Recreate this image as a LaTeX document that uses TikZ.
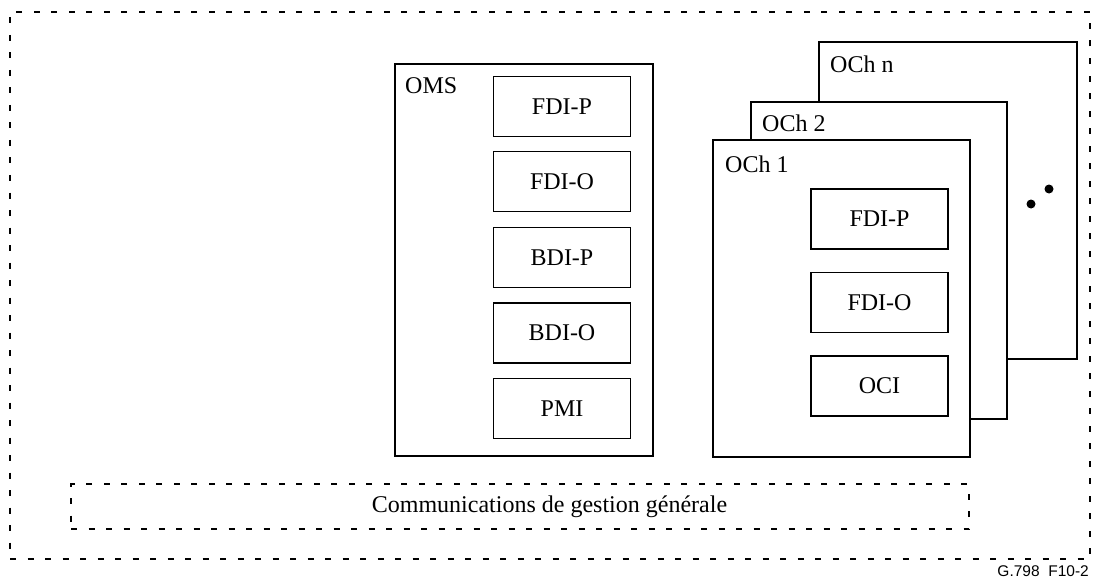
\documentclass[tikz,border=0pt]{standalone}
\usepackage{fontspec}
\setmainfont{Liberation Serif}
\newfontfamily\arialfont{Liberation Sans}
\begin{document}
\begin{tikzpicture}[x=1pt,y=-1pt,
  frame/.style={draw, line width=1.3pt, fill=white, inner sep=0pt},
  cell/.style={draw, line width=1.3pt, fill=white, inner sep=0pt,
    minimum width=137pt, minimum height=60pt, font=\fontsize{24}{28}\selectfont},
  lbl/.style={anchor=base west, inner sep=0pt, font=\fontsize{24}{28}\selectfont},
  dsh/.style={draw, line width=1.6pt, dash pattern=on 6pt off 11.5pt}]
\useasboundingbox (0,0) rectangle (1093,578);

% outer dashed frame
\node[dsh, inner sep=0pt, minimum width=1080pt, minimum height=547pt] (outer) at (550,285.5) {};

% OMS
\node[frame, minimum width=258pt, minimum height=392pt] (oms) at (524,260) {};
\node[lbl] (omsl) at (405,93) {OMS};
\node[cell] (mfdip) at (562,106.5) {FDI-P};
\node[cell] (mfdio) at (562,181.5) {FDI-O};
\node[cell] (mbdip) at (562,257.5) {BDI-P};
\node[cell] (mbdio) at (562,333) {BDI-O};
\node[cell] (mpmi) at (562,408.5) {PMI};

% OCh stack
\node[frame, minimum width=258pt, minimum height=317pt] (ochn) at (948,200.5) {};
\node[lbl] (ochnl) at (830,73) {OCh n};
\fill (1049,189) circle (4.5pt);
\fill (1031,204) circle (4.5pt);
\node[frame, minimum width=256pt, minimum height=317pt] (och2) at (879,260.5) {};
\node[lbl] (och2l) at (762,131) {OCh 2};
\node[frame, minimum width=257pt, minimum height=317pt] (och1) at (841.5,298.5) {};
\node[lbl] (och1l) at (725,172) {OCh 1};
\node[cell] (cfdip) at (879.5,219) {FDI-P};
\node[cell] (cfdio) at (879.5,302.5) {FDI-O};
\node[cell] (coci) at (879.5,386) {OCI};

% general management communications
\node[dsh, inner sep=0pt, minimum width=898pt, minimum height=45pt] (comm) at (520,506.5) {};
\node[inner sep=0pt, font=\fontsize{24}{28}\selectfont] (comml) at (549.5,507) {Communications de gestion générale};

% figure reference
\node[anchor=base east, inner sep=0pt, font=\arialfont\fontsize{15.5}{18}\selectfont] (ref) at (1089,576) {G.798\ \ F10-2};
\end{tikzpicture}
\end{document}
